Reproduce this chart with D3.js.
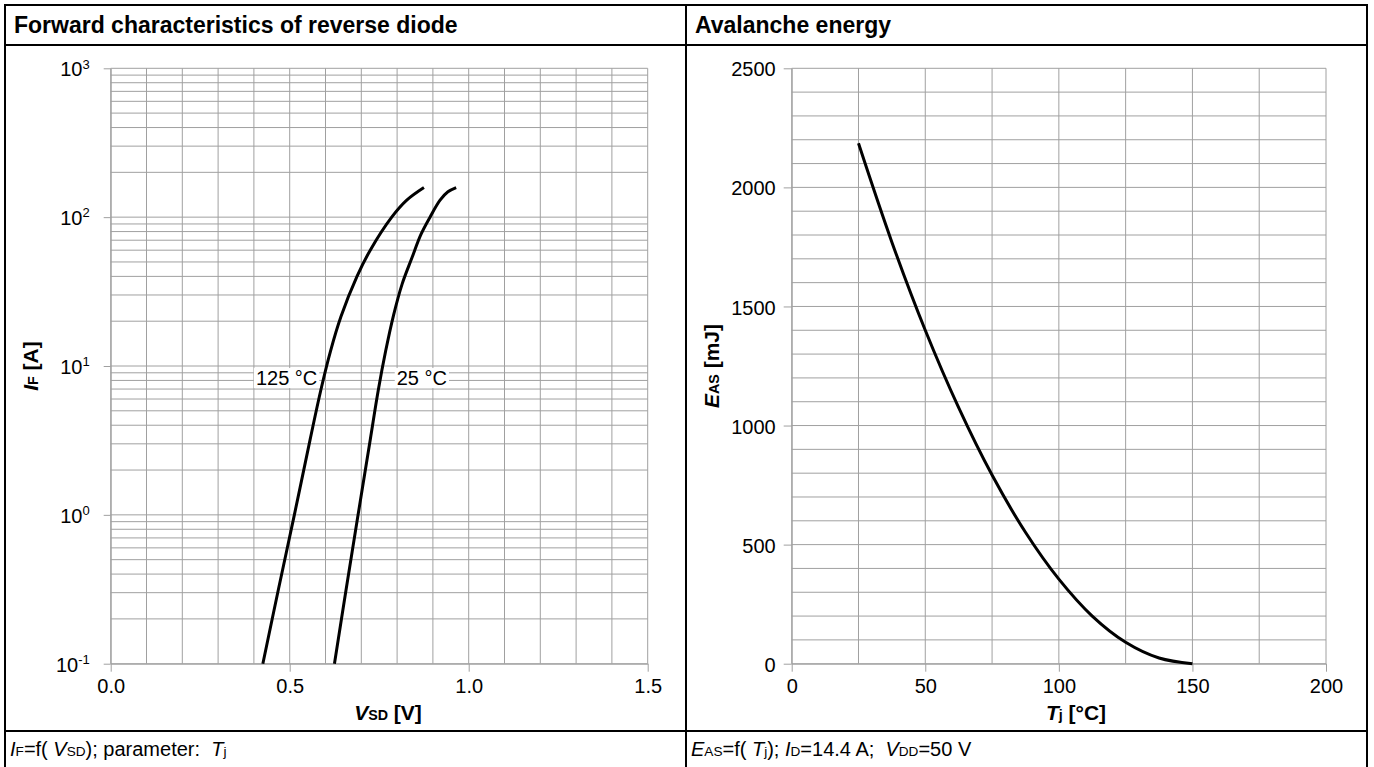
<!DOCTYPE html>
<html>
<head>
<meta charset="utf-8">
<script src="https://cdn.jsdelivr.net/npm/d3@7"></script>
<style>
  body { margin: 0; background: #fff; }
  svg { display: block; font-family: "Liberation Sans", Arial, sans-serif; }
  text { white-space: pre; }
</style>
</head>
<body>
<svg id="chart" width="1374" height="767"></svg>
<script>
// ---- data ----
var diodeV125 = [0.425, 0.469, 0.513, 0.557, 0.587, 0.614, 0.643, 0.688, 0.725, 0.785, 0.827, 0.875];
var diodeI125 = [0.1, 0.32, 1.0, 3.2, 6.9, 12.6, 21.4, 40, 60, 100, 130, 158];
var diodeV25 = [0.625, 0.658, 0.691, 0.725, 0.7475, 0.768, 0.790, 0.814, 0.842, 0.866, 0.892, 0.920, 0.942, 0.965];
var diodeI25 = [0.1, 0.32, 1.0, 3.2, 6.9, 12.6, 21.9, 35.5, 53.7, 76, 100, 130, 148, 158];

var tjValues = [25, 37.5, 50, 62.5, 75, 87.5, 100, 112.5, 125, 137.5, 150];
var easValues = [2185, 1770, 1400, 1075, 792, 552, 355, 200, 90, 24, 0];

var vsdTicks = [0, 0.5, 1.0, 1.5];
var ifDecades = [0.1, 1, 10, 100, 1000];
var ifExponents = ["-1", "0", "1", "2", "3"];
var tjTicks = [0, 50, 100, 150, 200];
var easTicks = [0, 500, 1000, 1500, 2000, 2500];

var gridColor = "#a0a0a0";
var svg = d3.select("#chart");

// ---- table frame ----
var frame = svg.append("g").attr("stroke", "#000").attr("stroke-width", 2);
frame.append("line").attr("x1", 5).attr("x2", 1367).attr("y1", 5).attr("y2", 5);
frame.append("line").attr("x1", 5).attr("x2", 1367).attr("y1", 45).attr("y2", 45);
frame.append("line").attr("x1", 5).attr("x2", 1367).attr("y1", 731).attr("y2", 731);
frame.append("line").attr("x1", 5).attr("x2", 5).attr("y1", 4).attr("y2", 767);
frame.append("line").attr("x1", 686).attr("x2", 686).attr("y1", 4).attr("y2", 767);
frame.append("line").attr("x1", 1367).attr("x2", 1367).attr("y1", 4).attr("y2", 767);

svg.append("text").attr("x", 14).attr("y", 33).attr("font-size", 23).attr("font-weight", "bold")
  .text("Forward characteristics of reverse diode");
svg.append("text").attr("x", 695).attr("y", 33).attr("font-size", 23).attr("font-weight", "bold")
  .text("Avalanche energy");

// helper for text with italic symbol + subscript
function addRich(sel, parts) {
  parts.forEach(function(p) {
    var t = sel.append("tspan").text(p.t);
    if (p.i) t.attr("font-style", "italic");
    if (p.sub) t.attr("font-size", "0.68em");
  });
}

// footers
var f1 = svg.append("text").attr("x", 10).attr("y", 756).attr("font-size", 20);
addRich(f1, [{t: "I", i: 1}, {t: "F", sub: 1}, {t: "=f( "}, {t: "V", i: 1}, {t: "SD", sub: 1},
  {t: "); parameter:  "}, {t: "T", i: 1}, {t: "j", sub: 1}]);
var f2 = svg.append("text").attr("x", 691).attr("y", 756).attr("font-size", 20);
addRich(f2, [{t: "E", i: 1}, {t: "AS", sub: 1}, {t: "=f( "}, {t: "T", i: 1}, {t: "j", sub: 1},
  {t: "); "}, {t: "I", i: 1}, {t: "D", sub: 1}, {t: "=14.4 A;  "}, {t: "V", i: 1}, {t: "DD", sub: 1},
  {t: "=50 V"}]);

var line = d3.line().curve(d3.curveCatmullRom.alpha(0.5));
function curvePts(xs, ys, sx, sy) {
  return xs.map(function(v, i) { return [sx(v), sy(ys[i])]; });
}

// ---- left chart: forward characteristics ----
var xL = d3.scaleLinear().domain([0, 1.5]).range([110.7, 647.7]);
var yL = d3.scaleLog().domain([0.1, 1000]).range([663.7, 68.3]);

var gL = svg.append("g");
gL.append("g").selectAll("line").data(d3.range(0, 1.51, 0.1)).join("line")
  .attr("x1", function(d) { return xL(d); }).attr("x2", function(d) { return xL(d); })
  .attr("y1", yL.range()[0]).attr("y2", yL.range()[1])
  .attr("stroke", gridColor).attr("stroke-width", 1);
gL.append("g").selectAll("line").data(yL.ticks()).join("line")
  .attr("x1", xL.range()[0]).attr("x2", xL.range()[1])
  .attr("y1", function(d) { return yL(d); }).attr("y2", function(d) { return yL(d); })
  .attr("stroke", gridColor).attr("stroke-width", 1);

gL.append("g").attr("class", "xaxis").attr("transform", "translate(0," + yL.range()[0] + ")")
  .call(d3.axisBottom(xL).tickValues(vsdTicks).tickFormat(d3.format(".1f"))
    .tickSize(8).tickSizeOuter(0).tickPadding(7));
var axYL = gL.append("g").attr("class", "yaxis").attr("transform", "translate(" + xL.range()[0] + ",0)")
  .call(d3.axisLeft(yL).tickValues(ifDecades).tickSize(7).tickSizeOuter(0).tickPadding(14)
    .tickFormat(function() { return ""; }));
axYL.selectAll(".tick text").each(function(d, i) {
  var t = d3.select(this);
  t.append("tspan").text("10");
  t.append("tspan").attr("font-size", 13).attr("dy", "-0.6em").text(ifExponents[i]);
});

gL.append("path").attr("d", line(curvePts(diodeV125, diodeI125, xL, yL)))
  .attr("fill", "none").attr("stroke", "#000").attr("stroke-width", 3);
gL.append("path").attr("d", line(curvePts(diodeV25, diodeI25, xL, yL)))
  .attr("fill", "none").attr("stroke", "#000").attr("stroke-width", 3);

function boxLabel(g, x, y, anchor, txt) {
  var bg = g.append("rect").attr("fill", "#fff");
  var t = g.append("text").attr("x", x).attr("y", y).attr("font-size", 20)
    .attr("text-anchor", anchor).text(txt);
  var b = t.node().getBBox();
  bg.attr("x", b.x - 2).attr("y", b.y + 1).attr("width", b.width + 4).attr("height", b.height - 2);
}
boxLabel(gL, xL(0.577), yL(8.3) + 7, "end", "125 °C");
boxLabel(gL, xL(0.799), yL(8.3) + 7, "start", "25 °C");

var tx1 = gL.append("text").attr("x", 388).attr("y", 720).attr("font-size", 21)
  .attr("font-weight", "bold").attr("text-anchor", "middle");
addRich(tx1, [{t: "V", i: 1}, {t: "SD", sub: 1}, {t: " [V]"}]);
var ty1 = gL.append("text").attr("transform", "translate(38,366) rotate(-90)").attr("font-size", 21)
  .attr("font-weight", "bold").attr("text-anchor", "middle");
addRich(ty1, [{t: "I", i: 1}, {t: "F", sub: 1}, {t: " [A]"}]);

// ---- right chart: avalanche energy ----
var xR = d3.scaleLinear().domain([0, 200]).range([791.7, 1326]);
var yR = d3.scaleLinear().domain([0, 2500]).range([663.7, 68.3]);

var gR = svg.append("g");
gR.append("g").selectAll("line").data(d3.range(0, 201, 25)).join("line")
  .attr("x1", function(d) { return xR(d); }).attr("x2", function(d) { return xR(d); })
  .attr("y1", yR.range()[0]).attr("y2", yR.range()[1])
  .attr("stroke", gridColor).attr("stroke-width", 1);
gR.append("g").selectAll("line").data(d3.range(0, 2501, 100)).join("line")
  .attr("x1", xR.range()[0]).attr("x2", xR.range()[1])
  .attr("y1", function(d) { return yR(d); }).attr("y2", function(d) { return yR(d); })
  .attr("stroke", gridColor).attr("stroke-width", 1);

gR.append("g").attr("class", "xaxis").attr("transform", "translate(0," + yR.range()[0] + ")")
  .call(d3.axisBottom(xR).tickValues(tjTicks).tickFormat(d3.format("d"))
    .tickSize(8).tickSizeOuter(0).tickPadding(7));
gR.append("g").attr("class", "yaxis").attr("transform", "translate(" + xR.range()[0] + ",0)")
  .call(d3.axisLeft(yR).tickValues(easTicks).tickFormat(d3.format("d"))
    .tickSize(8).tickSizeOuter(0).tickPadding(8));

gR.append("path").attr("d", line(curvePts(tjValues, easValues, xR, yR)))
  .attr("fill", "none").attr("stroke", "#000").attr("stroke-width", 3);

var tx2 = gR.append("text").attr("x", 1076).attr("y", 720).attr("font-size", 21)
  .attr("font-weight", "bold").attr("text-anchor", "middle");
addRich(tx2, [{t: "T", i: 1}, {t: "j", sub: 1}, {t: " [°C]"}]);
var ty2 = gR.append("text").attr("transform", "translate(719,366) rotate(-90)").attr("font-size", 21)
  .attr("font-weight", "bold").attr("text-anchor", "middle");
addRich(ty2, [{t: "E", i: 1}, {t: "AS", sub: 1}, {t: " [mJ]"}]);

// axis styling
svg.selectAll(".domain, .tick line").attr("stroke", gridColor);
svg.selectAll(".tick text").attr("font-size", 20).attr("fill", "#000")
  .attr("font-family", "Liberation Sans, Arial, sans-serif");
svg.selectAll(".yaxis .tick text").attr("dy", "0.38em");
</script>
</body>
</html>
